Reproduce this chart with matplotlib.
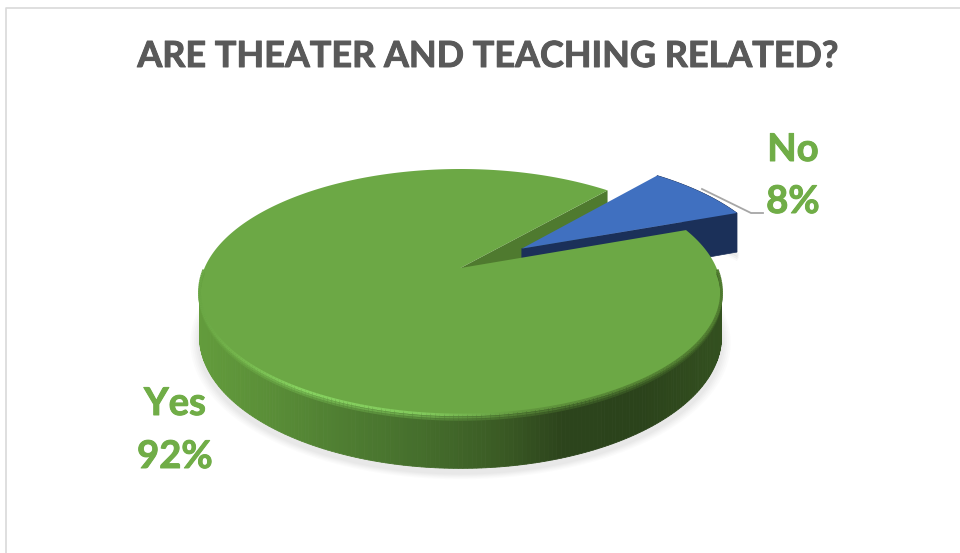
import numpy as np
import matplotlib
matplotlib.use("Agg")
import matplotlib.pyplot as plt
import matplotlib.patheffects as pe
from matplotlib.patches import Polygon
from matplotlib.collections import LineCollection

labels = ["Yes", "No"]
values = [92, 8]
percent_labels = ["92%", "8%"]

# Colours
GREEN_TOP = "#6ca845"
GREEN_CUT = "#4f7a2f"
BLUE_TOP = "#4070c0"
BLUE_SIDE = "#1b3059"
TEXT_GREEN = "#70ad47"
TITLE_GREY = "#595959"
FRAME_GREY = "#d9d9d9"

# Perspective set-up of the tilted pie, in pixels
CX, CY = 460.5, 268.0
A, B, K, DEPTH = 256.0, 118.3, 0.195, 43.0
NO_START = 20.0
EXPLODE = 0.30


def project(x, y, z=0.0):
    # y grows toward the viewer, z grows downward
    w = 1 - K * np.asarray(y)
    return CX + A * np.asarray(x) / w, CY + (B * np.asarray(y) + DEPTH * np.asarray(z)) / w


def rim(t0, t1, n=400):
    t = np.radians(np.linspace(t0, t1, n))
    return np.cos(t), -np.sin(t)


def ramp(x, stops, reds, greens, blues):
    return (np.interp(x, stops, reds) / 255, np.interp(x, stops, greens) / 255,
            np.interp(x, stops, blues) / 255)


def wall_colour(x):
    return ramp(x, [199, 260, 340, 420, 500, 560, 640, 722],
                [0x63, 0x5b, 0x4f, 0x45, 0x3a, 0x2c, 0x2b, 0x33],
                [0x9c, 0x90, 0x7e, 0x6e, 0x5a, 0x44, 0x43, 0x50],
                [0x3c, 0x38, 0x32, 0x2c, 0x24, 0x1c, 0x1b, 0x1f])


def rim_colour(x):
    return ramp(x, [199, 240, 300, 420, 520, 620, 722],
                [0x6a, 0x76, 0x86, 0x82, 0x62, 0x55, 0x50],
                [0xa6, 0xb8, 0xd2, 0xca, 0x98, 0x84, 0x7c],
                [0x44, 0x4e, 0x60, 0x5c, 0x3e, 0x34, 0x30])


def mix(c1, c2, f):
    return tuple(a * (1 - f) + b * f for a, b in zip(c1, c2))


fig = plt.figure(figsize=(9.6, 5.53), dpi=100)
ax = fig.add_axes([0, 0, 1, 1])
ax.set_xlim(0, 960)
ax.set_ylim(553, 0)
ax.axis("off")

# Chart frame, only the left and top edges are in view
ax.plot([6, 6, 960], [553, 8, 8], color=FRAME_GREY, lw=1.2, zorder=1)

# Slice angles come from the values
no_sweep = 360.0 * values[1] / sum(values)
no_end = NO_START + no_sweep
yes_sweep = 360.0 * values[0] / sum(values)
mid = np.radians(NO_START + no_sweep / 2)
off_x, off_y = EXPLODE * np.cos(mid), -EXPLODE * np.sin(mid)

rx, ry = rim(no_end, no_end + yes_sweep)

# Soft shadow under the body
sx, sy = project(rx, ry, 1.0)
for grow, alpha in zip([1.035, 1.028, 1.021, 1.014, 1.007], [0.05, 0.06, 0.07, 0.08, 0.09]):
    pts = np.column_stack([CX + (sx - CX) * grow, 300 + (sy - 300) * grow + 5])
    ax.add_patch(Polygon(pts, closed=True, facecolor="#bdbdbd", edgecolor="none", alpha=alpha, zorder=2))

# Cut face of the big slice, seen through the gap
edge_x, edge_y = np.cos(np.radians(no_end)), -np.sin(np.radians(no_end))
px, py = project(np.array([0, edge_x, edge_x, 0]), np.array([0, edge_y, edge_y, 0]), np.array([0, 0, 1, 1]))
ax.add_patch(Polygon(np.column_stack([px, py]), closed=True, facecolor=GREEN_CUT, edgecolor="none", zorder=3))

# Exploded small slice: shadow, side faces, then top
nx, ny = rim(NO_START, no_end, 60)
nx, ny = nx + off_x, ny + off_y
ox = np.concatenate([[off_x], nx])
oy = np.concatenate([[off_y], ny])
tx, ty = project(ox, oy)
dx, dy = project(ox, oy, 1.0)
for shift, alpha in zip([7, 5, 3], [0.08, 0.1, 0.14]):
    ax.add_patch(Polygon(np.column_stack([dx[1:] + 1, dy[1:] + shift]), closed=True, facecolor="#bdbdbd",
                         edgecolor="#bdbdbd", lw=3, alpha=alpha, zorder=3))
side = np.column_stack([np.r_[tx[1:], dx[1:][::-1]], np.r_[ty[1:], dy[1:][::-1]]])
ax.add_patch(Polygon(side, closed=True, facecolor=BLUE_SIDE, edgecolor=BLUE_SIDE, lw=0.5, zorder=4))
ax.add_patch(Polygon(np.array([[tx[0], ty[0]], [tx[1], ty[1]], [dx[1], dy[1]], [dx[0], dy[0]]]),
                     closed=True, facecolor=BLUE_SIDE, edgecolor=BLUE_SIDE, lw=0.5, zorder=4))
ax.add_patch(Polygon(np.column_stack([tx, ty]), closed=True, facecolor=BLUE_TOP, edgecolor="none", zorder=5))

# Outer wall of the big slice, one quad per step so the shading can vary.
# Only the part facing the viewer is drawn.
tx, ty = project(rx, ry)
dx, dy = project(rx, ry, 1.0)
for i in np.argsort(ry[:-1]):
    if ry[i] < 0.05:
        continue
    quad = [[tx[i], ty[i]], [tx[i + 1], ty[i + 1]], [dx[i + 1], dy[i + 1]], [dx[i], dy[i]]]
    c = wall_colour(tx[i])
    ax.add_patch(Polygon(quad, closed=True, facecolor=c, edgecolor=c, lw=0.6, zorder=6))

# Top of the big slice
px, py = project(np.concatenate([[0], rx]), np.concatenate([[0], ry]))
ax.add_patch(Polygon(np.column_stack([px, py]), closed=True, facecolor=GREEN_TOP, edgecolor="none", zorder=7))

# Soft bevel along the front rim, fading from the highlight into the wall
front = np.where(ry > 0.0)[0]
runs = np.split(front, np.where(np.diff(front) > 1)[0] + 1)
for z, f, width, zo in [(0.09, 0.7, 1.4, 7.2), (0.05, 0.4, 1.4, 7.4), (0.0, 0.0, 2.0, 7.6)]:
    for run in runs:
        fx, fy = project(rx[run], ry[run], z)
        segs = [[(fx[i], fy[i]), (fx[i + 1], fy[i + 1])] for i in range(len(fx) - 1)]
        cols = [mix(rim_colour(fx[i]), wall_colour(fx[i]), f) for i in range(len(fx) - 1)]
        ax.add_collection(LineCollection(segs, colors=cols, linewidths=width, zorder=zo))

# Leader line for the small slice
ax.plot([702, 751, 763], [189, 213, 213], color="#a6a6a6", lw=1.3, zorder=9)

# Text, with a thin outline to bring the weight up
bold_title = [pe.withStroke(linewidth=0.7, foreground=TITLE_GREY)]
bold_label = [pe.withStroke(linewidth=0.7, foreground=TEXT_GREEN)]
ax.text(488, 56.5, "ARE THEATER AND TEACHING RELATED?", family="Lato", weight="bold",
        fontsize=25.9, color=TITLE_GREY, ha="center", va="center", zorder=10, path_effects=bold_title)
for x, y, s in [(793, 150, labels[1]), (793, 202, percent_labels[1]),
                (175, 404, labels[0]), (175, 457, percent_labels[0])]:
    ax.text(x, y, s, family="Lato", weight="bold", fontsize=27.5, color=TEXT_GREEN,
            ha="center", va="center", zorder=10, path_effects=bold_label)

fig.savefig("out.png", dpi=100)
